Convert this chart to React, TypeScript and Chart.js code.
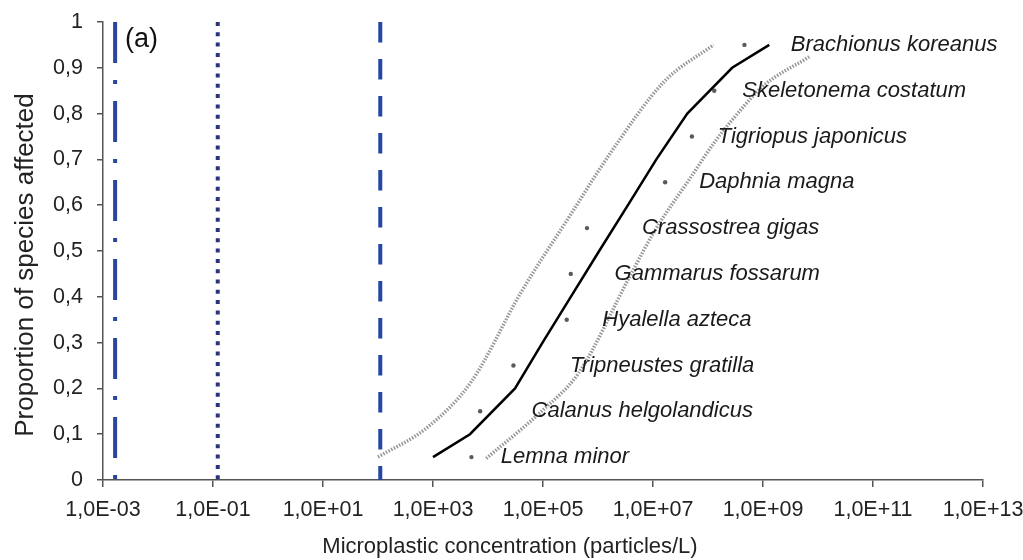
import React, { useEffect, useRef } from 'react';
import { Chart, registerables } from 'chart.js';

Chart.register(...registerables);

// Species (ranked) and their effect concentrations (particles/L)
const speciesNames = [
  'Lemna minor',
  'Calanus helgolandicus',
  'Tripneustes gratilla',
  'Hyalella azteca',
  'Gammarus fossarum',
  'Crassostrea gigas',
  'Daphnia magna',
  'Tigriopus japonicus',
  'Skeletonema costatum',
  'Brachionus koreanus',
];
const speciesConc = [5.0e3, 7.2e3, 2.9e4, 2.7e5, 3.2e5, 6.3e5, 1.66e7, 5.1e7, 1.3e8, 4.6e8];
const speciesProp = [0.05, 0.15, 0.25, 0.35, 0.45, 0.55, 0.65, 0.75, 0.85, 0.95];
// concentration where each species label starts
const labelConc = [1.7e4, 6.2e4, 3.1e5, 1.2e6, 2.0e6, 6.3e6, 6.9e7, 1.5e8, 4.2e8, 3.2e9];

// Fitted SSD (median)
const medianConc = [1.0e3, 4.7e3, 3.1e4, 9.8e4, 3.2e5, 1.05e6, 3.5e6, 1.15e7, 4.2e7, 2.75e8, 1.3e9];
const medianProp = [0.05, 0.1, 0.2, 0.3, 0.4, 0.5, 0.6, 0.7, 0.8, 0.9, 0.95];

// Confidence bounds
const lowerConc = [1.0e2, 7.9e2, 5.0e3, 4.0e4, 3.2e5, 1.6e6, 1.6e7, 1.26e8];
const lowerProp = [0.05, 0.115, 0.215, 0.41, 0.58, 0.71, 0.87, 0.95];
const upperConc = [9.3e3, 1.0e5, 4.4e5, 4.0e6, 1.1e7, 4.5e7, 1.4e8, 2.75e8, 9.8e8, 6.9e9];
const upperProp = [0.047, 0.153, 0.233, 0.45, 0.546, 0.655, 0.742, 0.786, 0.859, 0.924];

// Reference concentrations (vertical lines)
const thresholdConc = [1.66e-3, 0.122, 110];

const xTickValues = [1e-3, 1e-1, 1e1, 1e3, 1e5, 1e7, 1e9, 1e11, 1e13];
const xTickLabels = ['1,0E-03', '1,0E-01', '1,0E+01', '1,0E+03', '1,0E+05', '1,0E+07', '1,0E+09', '1,0E+11', '1,0E+13'];
const yTickLabels = ['0', '0,1', '0,2', '0,3', '0,4', '0,5', '0,6', '0,7', '0,8', '0,9', '1'];

const xTitle = 'Microplastic concentration (particles/L)';
const yTitle = 'Proportion of species affected';

const FONT = '"Liberation Sans", Arial, sans-serif';
const AXIS = '#555555';

const toPts = (xs: number[], ys: number[]) => xs.map((x, i) => ({ x, y: ys[i] }));

const labelPlugin = {
  id: 'speciesLabels',
  afterDatasetsDraw(chart: any) {
    const { ctx, scales, chartArea } = chart;
    ctx.save();
    ctx.fillStyle = '#1a1a1a';
    ctx.font = `italic 22px ${FONT}`;
    ctx.textAlign = 'left';
    ctx.textBaseline = 'middle';
    speciesNames.forEach((name, i) => {
      ctx.fillText(name, scales.x.getPixelForValue(labelConc[i]), scales.y.getPixelForValue(speciesProp[i]));
    });
    ctx.font = `27px ${FONT}`;
    ctx.fillStyle = '#111';
    ctx.fillText('(a)', chartArea.left + 22, chartArea.top + 18);

    // axis titles
    ctx.fillStyle = '#222';
    ctx.textAlign = 'center';
    ctx.textBaseline = 'middle';
    ctx.font = `22px ${FONT}`;
    ctx.fillText(xTitle, (chartArea.left + chartArea.right) / 2 - 33, chartArea.bottom + 67);
    ctx.translate(chartArea.left - 77, (chartArea.top + chartArea.bottom) / 2 + 14);
    ctx.rotate(-Math.PI / 2);
    ctx.font = `26px ${FONT}`;
    ctx.fillText(yTitle, 0, 0);
    ctx.restore();
  },
};

export default function App() {
  const ref = useRef<HTMLCanvasElement>(null);
  useEffect(() => {
    if (!ref.current) return;
    const vline = (v: number) => [{ x: v, y: 1 }, { x: v, y: 0 }];
    const chart = new Chart(ref.current, {
      type: 'scatter',
      data: {
        datasets: [
          {
            data: vline(thresholdConc[0]),
            showLine: true,
            borderColor: '#2a47a0',
            borderWidth: 4,
            borderDash: [41, 17, 4, 17],
            pointRadius: 0,
          },
          {
            data: vline(thresholdConc[1]),
            showLine: true,
            borderColor: '#2b3478',
            borderWidth: 4,
            borderDash: [4, 6.3],
            pointRadius: 0,
          },
          {
            data: vline(thresholdConc[2]),
            showLine: true,
            borderColor: '#2446a4',
            borderWidth: 4,
            borderDash: [20.5, 16.5],
            pointRadius: 0,
          },
          {
            data: toPts(lowerConc, lowerProp),
            showLine: true,
            borderColor: 'rgba(130,130,130,0.85)',
            borderWidth: 3.5,
            borderDash: [1.5, 1.5],
            pointRadius: 0,
            cubicInterpolationMode: 'monotone',
          },
          {
            data: toPts(upperConc, upperProp),
            showLine: true,
            borderColor: 'rgba(130,130,130,0.85)',
            borderWidth: 3.5,
            borderDash: [1.5, 1.5],
            pointRadius: 0,
            cubicInterpolationMode: 'monotone',
          },
          {
            data: toPts(medianConc, medianProp),
            showLine: true,
            borderColor: '#000000',
            borderWidth: 2.5,
            pointRadius: 0,
          },
          {
            data: toPts(speciesConc, speciesProp),
            showLine: false,
            pointRadius: 2.2,
            pointBackgroundColor: '#5a5a5a',
            pointBorderWidth: 0,
          },
        ],
      },
      options: {
        animation: false,
        responsive: false,
        layout: { padding: { top: 22, right: 40, left: 0, bottom: 0 } },
        plugins: { legend: { display: false }, tooltip: { enabled: false } },
        scales: {
          x: {
            type: 'logarithmic',
            min: 1e-3,
            max: 1e13,
            afterBuildTicks: (scale: any) => {
              scale.ticks = xTickValues.map((v) => ({ value: v }));
            },
            afterFit: (scale: any) => {
              scale.height = 80;
              scale.paddingLeft = 0;
              scale.paddingRight = 0;
            },
            ticks: {
              autoSkip: false,
              maxRotation: 0,
              padding: 10,
              color: '#222',
              font: { family: FONT, size: 21.5 },
              callback: (_v: any, i: number) => xTickLabels[i],
            },
            grid: { display: true, drawOnChartArea: false, drawTicks: true, tickLength: 7, color: AXIS, lineWidth: 1.5 },
            border: { display: true, color: AXIS, width: 1.5 },
            title: { display: false },
          },
          y: {
            type: 'linear',
            min: 0,
            max: 1,
            afterFit: (scale: any) => {
              scale.width = 103;
              scale.paddingTop = 0;
              scale.paddingBottom = 0;
            },
            ticks: {
              stepSize: 0.1,
              padding: 14,
              color: '#222',
              font: { family: FONT, size: 21.5 },
              callback: (_v: any, i: number) => yTickLabels[i],
            },
            grid: { display: true, drawOnChartArea: false, drawTicks: true, tickLength: 6, color: AXIS, lineWidth: 1.5 },
            border: { display: true, color: AXIS, width: 1.5 },
            title: { display: false },
          },
        },
      },
      plugins: [labelPlugin],
    } as any);
    return () => chart.destroy();
  }, []);
  return (
    <div style={{ position: 'absolute', left: 0, top: 0, width: 1023, height: 560, background: '#fff' }}>
      <canvas ref={ref} width={1023} height={560} style={{ display: 'block' }} />
    </div>
  );
}
